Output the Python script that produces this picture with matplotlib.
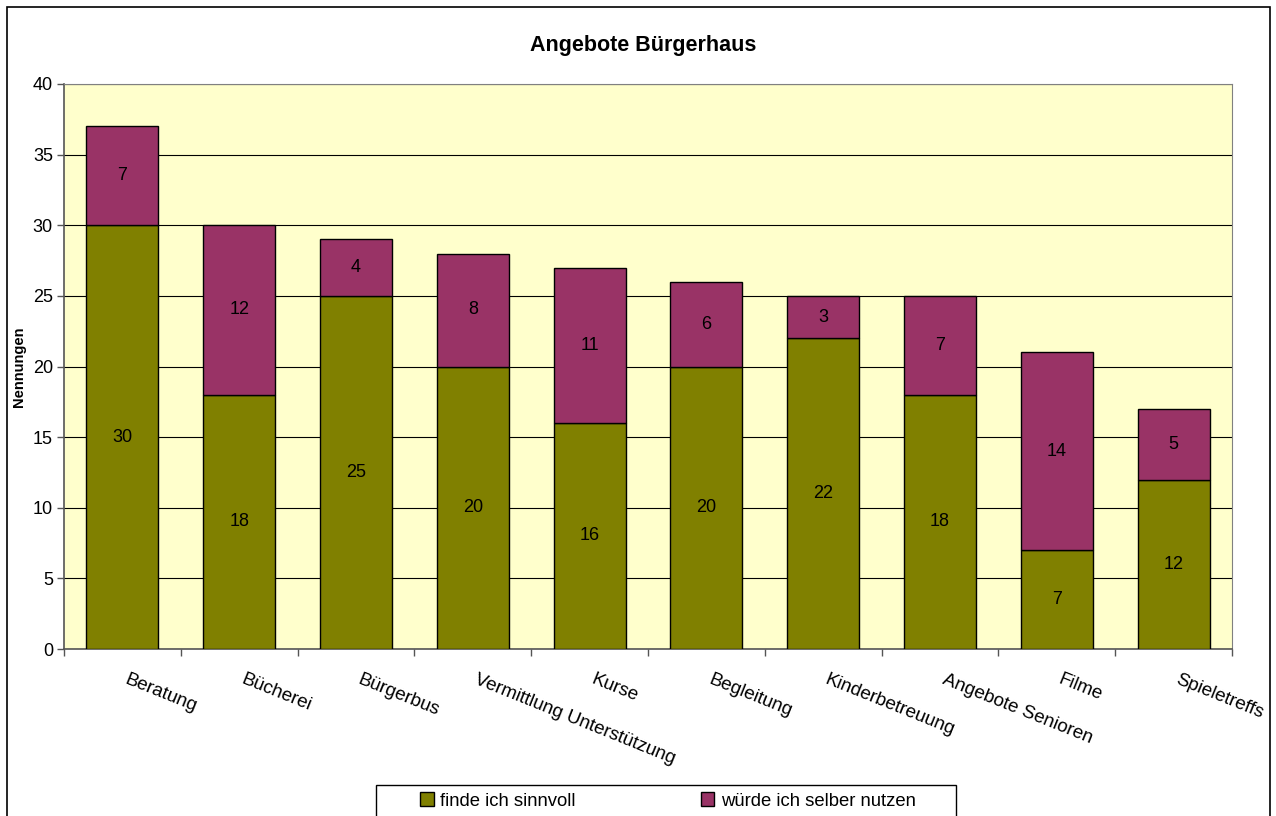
import matplotlib
matplotlib.use("Agg")
import matplotlib.pyplot as plt
from matplotlib.patches import Rectangle, Patch
import numpy as np

plt.rcParams['font.family'] = ['Liberation Sans', 'DejaVu Sans']

categories = ["Beratung", "Bücherei", "Bürgerbus", "Vermittlung Unterstützung", "Kurse",
              "Begleitung", "Kinderbetreuung", "Angebote Senioren", "Filme", "Spieletreffs"]
sinnvoll = [30, 18, 25, 20, 16, 20, 22, 18, 7, 12]
nutzen = [7, 12, 4, 8, 11, 6, 3, 7, 14, 5]
series_names = ["finde ich sinnvoll", "würde ich selber nutzen"]
title = "Angebote Bürgerhaus"
ylabel = "Nennungen"

W, H = 1276, 816
fig = plt.figure(figsize=(W / 100, H / 100), dpi=100)
fig.patch.set_facecolor('white')

# outer border
fig.patches.append(Rectangle((7 / W, -0.01), (1270 - 7) / W, 1.01 - 7 / H,
                             transform=fig.transFigure, fill=False, edgecolor='black', lw=1.2))

x0, x1, y0, y1 = 64, 1232, 84, 649
ax = fig.add_axes([x0 / W, 1 - y1 / H, (x1 - x0) / W, (y1 - y0) / H])
ax.set_facecolor('#FFFFCC')

green = '#808000'
purple = '#993366'
x = np.arange(len(categories))
bw = 0.615
ax.bar(x, sinnvoll, bw, color=green, edgecolor='black', lw=1, zorder=3)
ax.bar(x, nutzen, bw, bottom=sinnvoll, color=purple, edgecolor='black', lw=1, zorder=3)

for i in range(len(categories)):
    ax.text(x[i], sinnvoll[i] / 2, str(sinnvoll[i]), ha='center', va='center', fontsize=13, zorder=4)
    ax.text(x[i], sinnvoll[i] + nutzen[i] / 2, str(nutzen[i]), ha='center', va='center', fontsize=13, zorder=4)

ax.set_xlim(-0.5, len(categories) - 0.5)
ax.set_ylim(0, 40)
ax.set_yticks(np.arange(0, 41, 5))
ax.yaxis.grid(True, color='black', lw=0.8, zorder=0)
ax.set_axisbelow(True)
ax.tick_params(axis='y', labelsize=13, length=5, direction='out', width=1, colors='#555555', labelcolor='black', pad=3)
ax.set_xticks(np.arange(-0.5, len(categories), 1))
ax.set_xticklabels([])
ax.tick_params(axis='x', length=5, direction='out', width=1, colors='#555555')
for s in ['top', 'right']:
    ax.spines[s].set_visible(True)
    ax.spines[s].set_color('#808080')
ax.spines['left'].set_color('#555555')
ax.spines['bottom'].set_color('#555555')
ax.spines['left'].set_linewidth(1.2)
ax.spines['bottom'].set_linewidth(1.2)

for i, c in enumerate(categories):
    ax.annotate(c, xy=(x[i], 0), xycoords='data', xytext=(6, -22), textcoords='offset pixels',
                rotation=-22, rotation_mode='anchor', ha='left', va='top', fontsize=13.5)

fig.text(643 / W, 1 - 46 / H, title, ha='center', va='center', fontsize=15.5, fontweight='bold')
fig.text(19 / W, 1 - 367 / H, ylabel, ha='center', va='center', rotation=90, fontsize=10.5, fontweight='bold')

# legend frame drawn separately
fig.patches.append(Rectangle((376 / W, -0.02), (956 - 376) / W, 0.02 + (816 - 785) / H,
                             transform=fig.transFigure, facecolor='white', edgecolor='black', lw=1))
handles = [Patch(facecolor=green, edgecolor='black', lw=1), Patch(facecolor=purple, edgecolor='black', lw=1)]
leg = fig.legend(handles, series_names, loc='center', bbox_to_anchor=(668 / W, 1 - 801 / H),
                 ncol=2, fontsize=13.3, frameon=False, borderaxespad=0, borderpad=0,
                 handlelength=0.72, handleheight=0.72, handletextpad=0.35, columnspacing=6.8)

fig.savefig('out.png', dpi=100)
